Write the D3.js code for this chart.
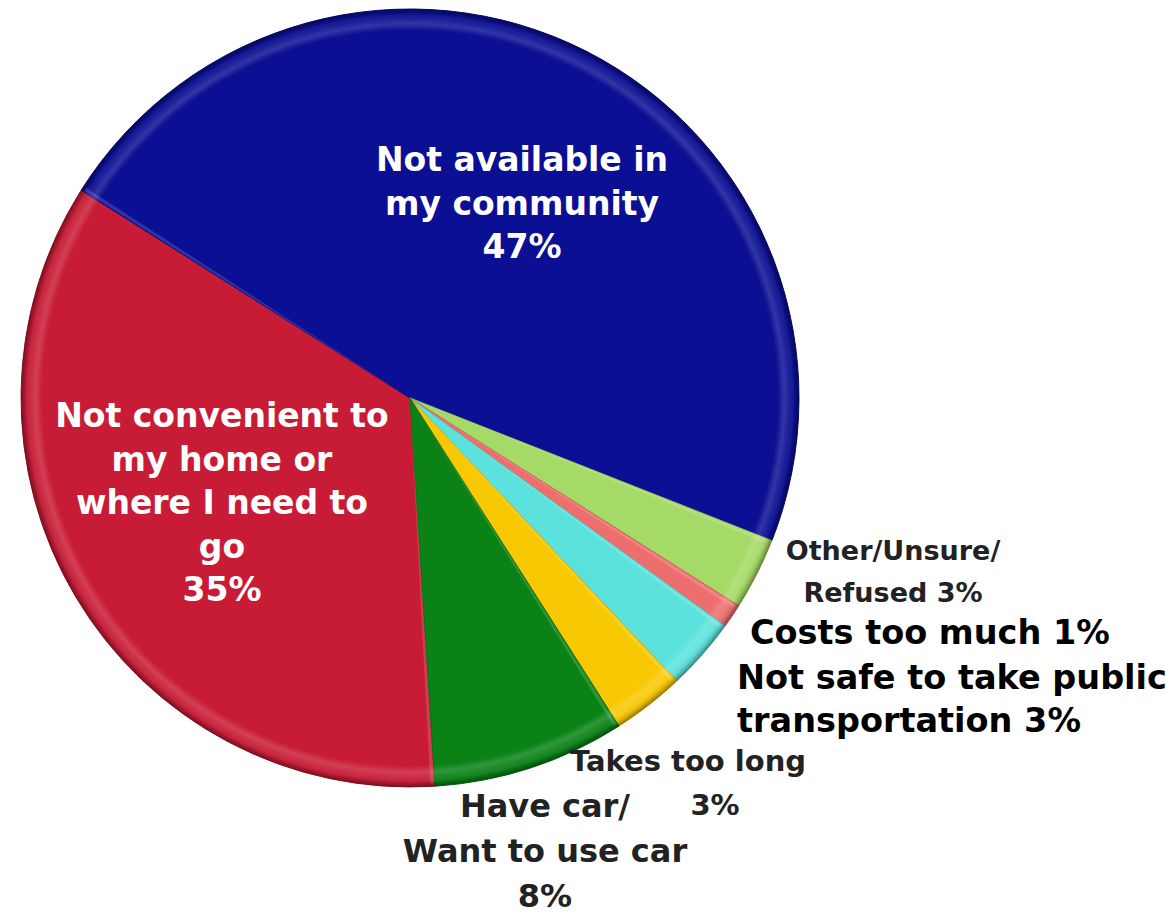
<!DOCTYPE html>
<html>
<head>
<meta charset="utf-8">
<script src="https://cdn.jsdelivr.net/npm/d3@7"></script>
<style>
  html, body { margin: 0; padding: 0; background: #ffffff; }
  svg { display: block; }
</style>
</head>
<body>
<svg id="chart" width="1169" height="923"></svg>
<script>
// ---- data ----
const categories = [
  "Not convenient to my home or where I need to go",
  "Not available in my community",
  "Other/Unsure/Refused",
  "Costs too much",
  "Not safe to take public transportation",
  "Takes too long",
  "Have car/Want to use car"
];
const values = [35, 47, 3, 1, 3, 3, 8];
const colors = ["#C81C36", "#0B0F93", "#A6DA66", "#EE6E6E", "#5CE2DC", "#F8C802", "#0A8216"];

// ---- label layout (text lines, position, style) ----
const labelLines = [
  ["Not convenient to", "my home or", "where I need to", "go", "35%"],
  ["Not available in", "my community", "47%"],
  ["Other/Unsure/", "Refused 3%"],
  ["Costs too much 1%"],
  ["Not safe to take public", "transportation 3%"],
  ["Takes too long"],
  ["Have car/", "Want to use car", "8%"]
];
const labelLayout = [
  {x: 222, y: 427, dy: 43.5, size: 33, fill: "#ffffff", anchor: "middle"},
  {x: 522, y: 171, dy: 43.5, size: 33, fill: "#ffffff", anchor: "middle"},
  {x: 893, y: 560, dy: 42, size: 27, fill: "#222222", anchor: "middle"},
  {x: 750, y: 644, dy: 44, size: 33.5, fill: "#000000", anchor: "start"},
  {x: 737, y: 689, dy: 43, size: 33.5, fill: "#000000", anchor: "start"},
  {x: 688, y: 771, dy: 44, size: 29, fill: "#222222", anchor: "middle"},
  {x: 545, y: 817, dy: 45, size: 32, fill: "#222222", anchor: "middle"}
];
const extraLabel = {text: "3%", x: 715, y: 815, size: 29, fill: "#222222"};

// ---- geometry ----
const cx = 410, cy = 398, R = 389;
const startDeg = 176.3;

const svg = d3.select("#chart");
const defs = svg.append("defs");

const rim = defs.append("radialGradient")
  .attr("id", "rim").attr("gradientUnits", "userSpaceOnUse")
  .attr("cx", 0).attr("cy", 0).attr("r", R);
[[0, "#ffffff", 0], [0.945, "#ffffff", 0], [0.962, "#ffffff", 0.16],
 [0.978, "#ffffff", 0.06], [0.99, "#000000", 0.14], [1, "#000000", 0.4]]
  .forEach(([o, c, a]) => rim.append("stop").attr("offset", o).attr("stop-color", c).attr("stop-opacity", a));

const pie = d3.pie().value(d => d).sort(null)
  .startAngle(startDeg * Math.PI / 180)
  .endAngle(startDeg * Math.PI / 180 + 2 * Math.PI);
const arcs = pie(values);
const arc = d3.arc().innerRadius(0).outerRadius(R);

const g = svg.append("g").attr("transform", `translate(${cx},${cy})`);

g.selectAll("path.slice").data(arcs).join("path")
  .attr("class", "slice")
  .attr("d", arc)
  .attr("fill", (d, i) => colors[i])
  .attr("stroke", (d, i) => d3.color(colors[i]).darker(0.4))
  .attr("stroke-width", 1)
  .attr("stroke-linejoin", "round");

// bevel highlight along each slice's leading edge
g.selectAll("path.hl").data(arcs).join("path")
  .attr("class", "hl")
  .attr("d", d => d3.arc().innerRadius(0).outerRadius(R - 3)
      .startAngle(d.startAngle + 0.002).endAngle(Math.min(d.endAngle, d.startAngle + 0.012))())
  .attr("fill", "#ffffff").attr("opacity", 0.15);

// rim shading
g.append("circle").attr("cx", 0).attr("cy", 0).attr("r", R).attr("fill", "url(#rim)");

// ---- labels ----
const font = "'DejaVu Sans', Verdana, sans-serif";
labelLines.forEach((lines, i) => {
  const L = labelLayout[i];
  const t = svg.append("text")
    .attr("x", L.x).attr("y", L.y)
    .attr("text-anchor", L.anchor)
    .attr("font-family", font)
    .attr("font-weight", "bold")
    .attr("font-size", L.size)
    .attr("fill", L.fill);
  lines.forEach((ln, k) => {
    t.append("tspan").attr("x", L.x).attr("y", L.y + k * L.dy).text(ln);
  });
});
svg.append("text")
  .attr("x", extraLabel.x).attr("y", extraLabel.y)
  .attr("text-anchor", "middle")
  .attr("font-family", font).attr("font-weight", "bold")
  .attr("font-size", extraLabel.size).attr("fill", extraLabel.fill)
  .text(extraLabel.text);
</script>
</body>
</html>
